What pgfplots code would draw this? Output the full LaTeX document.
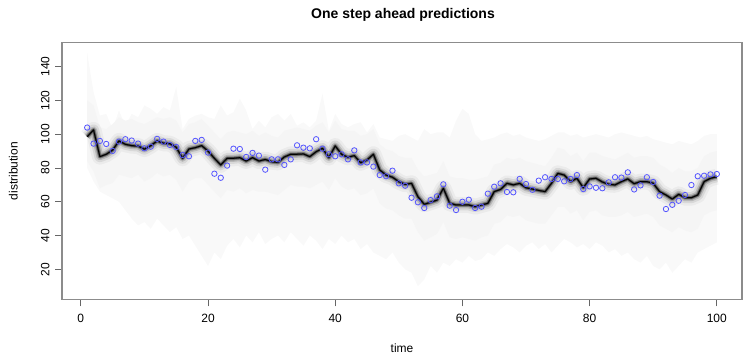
\documentclass[border=0pt]{standalone}
\usepackage{fontspec}
\setmainfont{Liberation Sans}
\usepackage{pgfplots}
\usepackage{pgfplotstable}
\pgfplotsset{compat=1.18}
\usepgfplotslibrary{fillbetween}
\definecolor{ptblue}{RGB}{85,85,255}
\pgfplotstableread{
t obs med ihi ilo ohi olo
1 103.9 98.5 120 84 148 80
2 94.4 102.5 117 78 125 72
3 96.0 86.7 104 68 111 66
4 94.2 88.1 103 70 112 64
5 90.1 90.6 106 71 103 62
6 95.6 96.0 110 76 114 60
7 97.0 94.0 108 75 105 55
8 96.2 93.2 109 74 112 50
9 94.4 93.0 107 76 110 46
10 91.6 91.1 106 72 117 48
11 92.6 93.2 108 74 115 44
12 97.2 96.0 110 77 112 50
13 95.6 94.6 109 75 116 46
14 93.6 94.4 110 76 114 42
15 92.4 92.2 108 73 128 45
16 87.7 85.7 101 66 103 38
17 86.9 91.2 106 72 109 40
18 96.0 92.0 107 74 111 34
19 96.6 93.2 109 74 112 28
20 89.1 90.0 105 70 110 22
21 76.6 85.7 101 66 109 30
22 74.2 81.8 97 62 117 26
23 81.4 85.7 101 67 111 34
24 91.4 85.7 102 66 113 38
25 91.2 86.1 101 68 121 33
26 86.5 84.1 100 65 114 40
27 88.9 86.1 102 67 103 36
28 87.3 84.1 99 66 108 42
29 79.0 85.0 101 66 104 35
30 85.1 83.7 99 65 110 38
31 85.1 83.3 98 64 112 40
32 81.8 86.5 102 67 108 36
33 85.1 88.1 103 70 112 42
34 93.4 88.1 104 69 105 38
35 92.0 88.3 103 69 107 34
36 91.6 86.7 102 68 104 40
37 97.0 89.6 105 70 108 37
38 91.4 91.6 107 72 124 32
39 88.1 86.1 101 67 102 38
40 86.9 93.0 108 74 112 35
41 88.1 88.1 103 69 106 40
42 85.1 86.3 102 67 104 36
43 90.4 87.3 102 68 106 38
44 83.3 83.1 99 64 107 32
45 83.3 84.7 100 65 101 35
46 80.8 88.1 103 68 106 30
47 75.8 78.8 94 59 98 28
48 75.1 75.8 91 56 97 26
49 78.4 74.5 90 55 96 30
50 70.9 71.9 87 52 99 24
51 69.5 70.3 86 50 100 20
52 62.4 70.9 86 50 98 18
53 59.7 63.0 79 42 96 10
54 56.3 58.5 75 37 103 14
55 61.0 59.7 76 39 100 22
56 63.2 61.0 77 41 101 18
57 70.3 68.0 84 48 101 24
58 57.7 59.1 75 39 98 22
59 55.1 58.1 74 38 108 26
60 60.0 58.1 74 39 115 24
61 61.2 58.1 73 38 112 28
62 56.3 57.1 73 37 100 25
63 57.1 58.1 74 39 96 26
64 64.8 59.1 75 40 97 30
65 68.9 66.0 82 47 98 28
66 70.9 67.3 83 48 100 32
67 65.8 70.9 86 52 101 35
68 65.6 70.0 85 51 99 33
69 73.5 70.9 86 52 100 30
70 70.5 68.3 84 49 98 34
71 67.1 67.5 83 48 97 36
72 72.5 66.7 82 47 96 32
73 74.5 66.0 81 47 97 35
74 73.5 70.9 86 52 99 30
75 73.5 76.8 92 57 101 34
76 72.1 75.8 91 57 101 38
77 73.5 71.9 87 53 99 36
78 75.8 73.9 89 55 100 33
79 67.5 68.3 84 49 98 35
80 69.1 73.5 89 54 99 32
81 68.3 73.9 89 55 100 36
82 68.0 71.7 87 52 99 34
83 71.5 70.3 86 51 98 30
84 74.5 70.0 85 51 100 32
85 74.3 71.9 87 52 101 28
86 77.4 73.5 89 54 100 30
87 67.3 70.7 86 51 99 26
88 69.7 71.9 87 52 98 24
89 74.5 71.9 87 53 99 28
90 71.7 70.9 86 51 97 22
91 63.6 66.0 82 46 96 20
92 55.7 64.0 80 44 95 24
93 58.2 61.6 77 42 94 18
94 60.6 64.4 80 45 96 22
95 64.0 62.4 78 43 95 26
96 69.9 62.4 78 42 94 24
97 75.1 64.0 80 44 96 30
98 75.4 71.9 87 52 99 32
99 76.2 73.9 89 54 100 34
100 76.4 74.8 90 55 100 36
}\data
\begin{document}
\begin{tikzpicture}
\begin{axis}[
  at={(0pt,0pt)}, anchor=south west,
  scale only axis, width=680pt, height=256.6pt,
  xmin=-2.96, xmax=103.96, ymin=2.3, ymax=154.1,
  axis line style={black!45, line width=1.1pt},
  xtick={0,20,...,100}, ytick={20,40,...,140},
  tick align=outside, major tick length=7pt,
  xtick pos=left, ytick pos=left,
  tick style={black!60, line width=0.8pt},
  every tick label/.append style={font=\fontsize{12}{14}\selectfont},
  /pgf/number format/assume math mode=true,
  yticklabel style={rotate=90, anchor=south},
  xticklabel shift=4pt, yticklabel shift=2pt,
]
\addplot[draw=none, name path=ohi, forget plot] table[x=t,y=ohi]{\data};
\addplot[draw=none, name path=olo, forget plot] table[x=t,y=olo]{\data};
\addplot[black!2.5, forget plot] fill between[of=ohi and olo];
\addplot[draw=none, name path=ihi, forget plot] table[x=t,y=ihi]{\data};
\addplot[draw=none, name path=ilo, forget plot] table[x=t,y=ilo]{\data};
\addplot[black!4, forget plot] fill between[of=ihi and ilo];
\addplot[black, opacity=0.04, line width=16pt, line join=round, no markers] table[x=t,y=med]{\data};
\addplot[black, opacity=0.08, line width=11pt, line join=round, no markers] table[x=t,y=med]{\data};
\addplot[black, opacity=0.15, line width=7pt, line join=round, no markers] table[x=t,y=med]{\data};
\addplot[black, opacity=0.3, line width=4pt, line join=round, no markers] table[x=t,y=med]{\data};
\addplot[black, opacity=0.45, line width=2.2pt, line join=round, no markers] table[x=t,y=med]{\data};
\addplot[black, line width=1pt, line join=round, no markers] table[x=t,y=med]{\data};
\addplot[only marks, mark=o, mark size=2.7pt, ptblue, mark options={line width=0.8pt}] table[x=t,y=obs]{\data};
\end{axis}
\node[inner sep=0pt, font=\fontsize{14}{16}\selectfont\bfseries] at (341pt,284.3pt) {One step ahead predictions};
\node[inner sep=0pt, font=\fontsize{12}{14}\selectfont] at (340pt,-49pt) {time};
\node[inner sep=0pt, font=\fontsize{12}{14}\selectfont, rotate=90] at (-48.7pt,128.3pt) {distribution};
\pgfresetboundingbox
\path[use as bounding box] (-62pt,-54.7pt) rectangle (681pt,299.3pt);
\end{tikzpicture}
\end{document}
